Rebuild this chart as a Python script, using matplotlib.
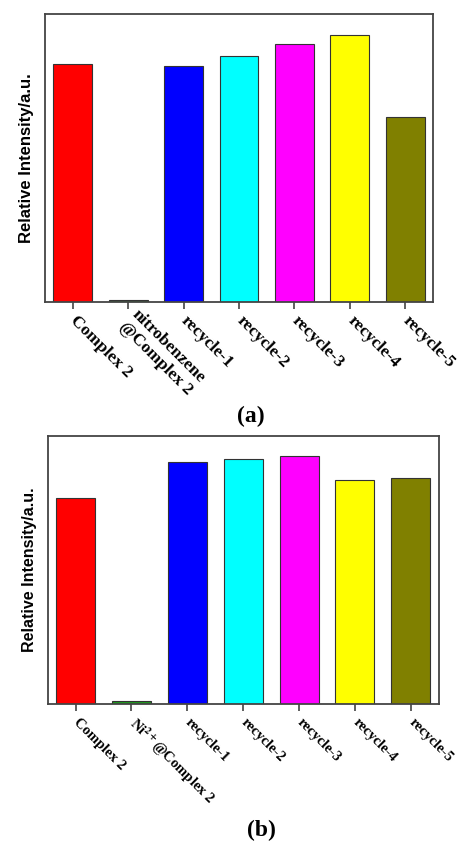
import matplotlib
matplotlib.use('Agg')
import matplotlib.pyplot as plt
import numpy as np

plt.rcParams['mathtext.fontset'] = 'stix'

# data
labels_a = ['Complex 2', 'nitrobenzene\n@Complex 2', 'recycle-1', 'recycle-2',
            'recycle-3', 'recycle-4', 'recycle-5']
values_a = [0.825, 0.007, 0.820, 0.854, 0.897, 0.927, 0.641]

labels_b = ['Complex 2', r'Ni$^{\mathbf{2+}}$@Complex 2', 'recycle-1', 'recycle-2',
            'recycle-3', 'recycle-4', 'recycle-5']
values_b = [0.769, 0.010, 0.903, 0.912, 0.926, 0.835, 0.843]

colors = ['#FF0000', '#1E9A1E', '#0000FF', '#00FFFF', '#FF00FF', '#FFFF00', '#808000']

fig = plt.figure(figsize=(4.57, 8.44), dpi=100)
ax1 = fig.add_axes([0.0985, 0.6422, 0.849, 0.3412])
ax2 = fig.add_axes([0.1044, 0.1659, 0.8556, 0.3179])


def draw(ax, labels, values, tag, tag_x, tag_y, fs, yfs):
    x = np.arange(len(values))
    ax.bar(x, values, width=0.7, color=colors, edgecolor='#333333', linewidth=0.8)
    ax.set_xlim(-0.5, len(values) - 0.5)
    ax.set_ylim(0, 1)
    ax.set_yticks([])
    ax.set_xticks(x)
    ax.set_xticklabels(labels, rotation=-45, rotation_mode='anchor', ha='left', va='center',
                       fontfamily='Liberation Serif', fontweight='bold', fontsize=fs,
                       linespacing=1.1)
    ax.tick_params(axis='x', direction='out', length=5, width=1.2, color='#444444', pad=7)
    for s in ax.spines.values():
        s.set_linewidth(1.3)
        s.set_color('#444444')
    ax.set_ylabel('Relative Intensity/a.u.', fontfamily='Liberation Sans', fontweight='bold',
                  fontsize=yfs, labelpad=8)
    fig.text(tag_x, tag_y, tag, ha='center', va='center', fontfamily='Liberation Serif',
             fontweight='bold', fontsize=17)


draw(ax1, labels_a, values_a, '(a)', 251 / 457, 1 - 416 / 844, 12.5, 12)
draw(ax2, labels_b, values_b, '(b)', 261 / 457, 1 - 830 / 844, 10.5, 11.5)

fig.savefig('out.png', dpi=100)
